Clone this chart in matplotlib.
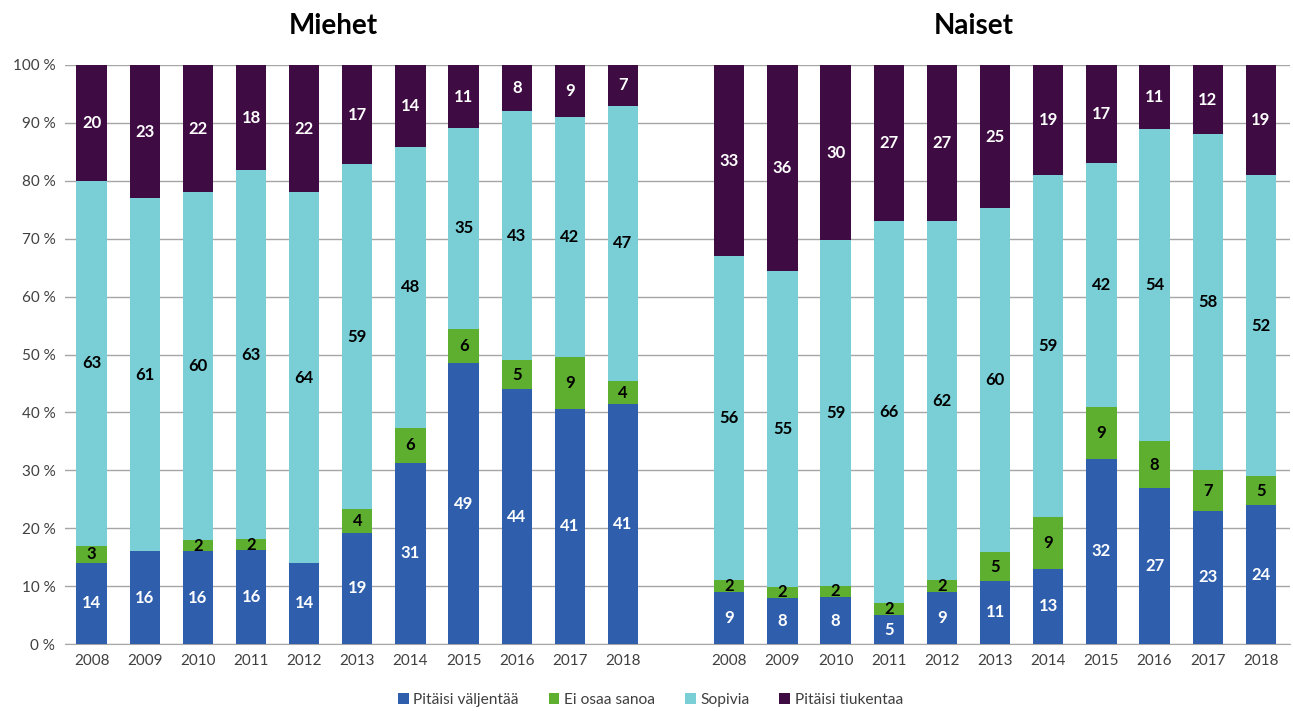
import matplotlib
matplotlib.use("Agg")
import matplotlib.pyplot as plt
import numpy as np
from matplotlib.patches import Patch

plt.rcParams['font.family'] = ['Lato', 'DejaVu Sans']

years = ['2008', '2009', '2010', '2011', '2012', '2013', '2014', '2015', '2016', '2017', '2018']
series_names = ['Pitäisi väljentää', 'Ei osaa sanoa', 'Sopivia', 'Pitäisi tiukentaa']

men_valjentaa = [14, 16, 16, 16, 14, 19, 31, 49, 44, 41, 41]
men_eos = [3, 0, 2, 2, 0, 4, 6, 6, 5, 9, 4]
men_sopivia = [63, 61, 60, 63, 64, 59, 48, 35, 43, 42, 47]
men_tiukentaa = [20, 23, 22, 18, 22, 17, 14, 11, 8, 9, 7]

women_valjentaa = [9, 8, 8, 5, 9, 11, 13, 32, 27, 23, 24]
women_eos = [2, 2, 2, 2, 2, 5, 9, 9, 8, 7, 5]
women_sopivia = [56, 55, 59, 66, 62, 60, 59, 42, 54, 58, 52]
women_tiukentaa = [33, 36, 30, 27, 27, 25, 19, 17, 11, 12, 19]

group_titles = ['Miehet', 'Naiset']

colors = ['#2F5FAC', '#5EAF2F', '#7ACFD6', '#3E0B43']
label_colors = ['white', 'black', 'black', 'white']

fig = plt.figure(figsize=(12.93, 7.11), dpi=100)
ax = fig.add_axes([0.0503, 0.0942, 0.9474, 0.8144])

men = np.array([men_valjentaa, men_eos, men_sopivia, men_tiukentaa], dtype=float)
women = np.array([women_valjentaa, women_eos, women_sopivia, women_tiukentaa], dtype=float)

n = len(years)
x_men = np.arange(n)
x_women = np.arange(n) + n + 1
width = 0.57

for data, xs in [(men, x_men), (women, x_women)]:
    totals = data.sum(axis=0)
    pct = data / totals * 100
    bottom = np.zeros(n)
    for i in range(4):
        ax.bar(xs, pct[i], width, bottom=bottom, color=colors[i], zorder=3)
        for j in range(n):
            if data[i, j] > 0:
                ax.text(xs[j], bottom[j] + pct[i, j] / 2, f"{int(data[i, j])}",
                        ha='center', va='center', color=label_colors[i],
                        fontsize=12, fontweight='bold', zorder=4)
        bottom += pct[i]

ax.set_xlim(-0.5, 2 * n + 0.55)
ax.set_ylim(0, 100)
ax.set_yticks(np.arange(0, 101, 10))
ax.set_yticklabels([f"{v} %" for v in range(0, 101, 10)], fontsize=11, color='#404040')
ax.set_xticks(list(x_men) + list(x_women))
ax.set_xticklabels(years + years, fontsize=11, color='#404040')
ax.tick_params(axis='both', length=0, pad=7)
ax.yaxis.grid(True, color='#A6A6A6', linewidth=1, zorder=0)
for s in ['top', 'right', 'left']:
    ax.spines[s].set_visible(False)
ax.spines['bottom'].set_color('#A6A6A6')
ax.spines['bottom'].set_zorder(2)

ax.text(x_men.mean() - 0.45, 106.8, group_titles[0], ha='center', va='center',
        fontsize=20, fontweight='bold', color='black')
ax.text(x_women.mean() - 0.4, 106.8, group_titles[1], ha='center', va='center',
        fontsize=20, fontweight='bold', color='black')

handles = [Patch(facecolor=c, label=l) for c, l in zip(colors, series_names)]
fig.legend(handles=handles, loc='lower center', ncol=4, frameon=False,
           fontsize=11.2, bbox_to_anchor=(0.503, -0.014), handlelength=0.7,
           handleheight=0.7, handletextpad=0.3, columnspacing=1.9,
           labelcolor='#404040')

fig.savefig('out.png', dpi=100)
